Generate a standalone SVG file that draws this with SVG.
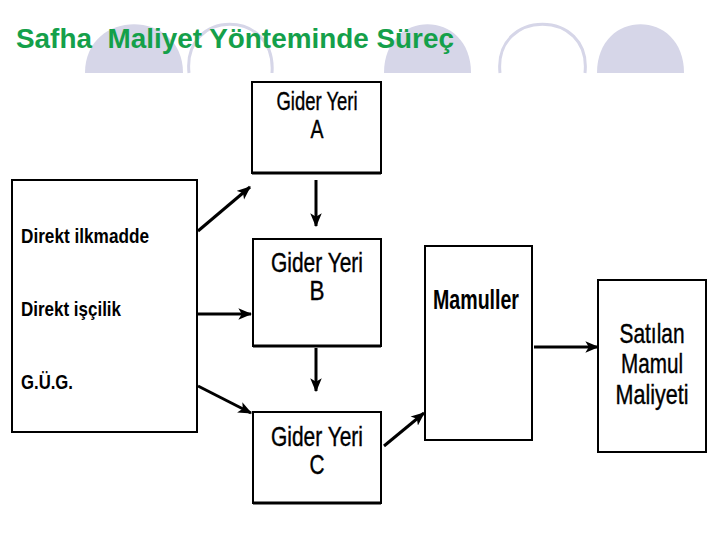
<svg xmlns="http://www.w3.org/2000/svg" width="720" height="540" viewBox="0 0 720 540">
<style>
.deco{fill:#d6d6e8}
.decoline{fill:none;stroke:#d6d6e8;stroke-width:3}
.box{fill:#fff;stroke:#000;stroke-width:2}
.t{font-family:"Liberation Sans",Arial,sans-serif;fill:#000;text-anchor:middle;stroke:#000;stroke-width:0.4}
.b{font-weight:bold;stroke-width:0}
.l{font-family:"Liberation Sans",Arial,sans-serif;font-weight:bold;fill:#000;font-size:21px}
.c{fill:none;stroke:#000;stroke-width:3}
</style>
<defs>
<marker id="ah" viewBox="0 0 12 10" refX="11" refY="5" markerWidth="4.6" markerHeight="4" orient="auto" markerUnits="strokeWidth">
<path d="M0,0 L12,5 L0,10 L3,5 z" fill="#000"/>
</marker>
</defs>
<rect width="720" height="540" fill="#fff"/>
<g id="decoration">
<path class="deco" d="M85,73 C85,8 183,8 183,73 z"/>
<path class="decoline" d="M189,73 C182,8 277,8 272,73"/>
<path class="deco" d="M384,73 C384,8 471,8 471,73 z"/>
<path class="decoline" d="M500,73 C493,8 592,8 585,73"/>
<path class="deco" d="M597,73 C597,8 684,8 684,73 z"/>
</g>
<text x="16" y="48" font-family="'Liberation Sans',Arial,sans-serif" font-weight="bold" font-size="27" fill="#14a04a" textLength="438" lengthAdjust="spacingAndGlyphs" xml:space="preserve">Safha  Maliyet Yönteminde Süreç</text>
<g id="left">
<rect class="box" x="12" y="180" width="185" height="252"/>
<text class="l" x="21" y="243" textLength="128" lengthAdjust="spacingAndGlyphs">Direkt ilkmadde</text>
<text class="l" x="21" y="316" textLength="100" lengthAdjust="spacingAndGlyphs">Direkt işçilik</text>
<text class="l" x="21" y="389" textLength="52" lengthAdjust="spacingAndGlyphs">G.Ü.G.</text>
</g>
<g id="giderA">
<rect class="box" x="252" y="82" width="129" height="91"/>
<line x1="252" y1="173" x2="381" y2="173" stroke="#000" stroke-width="3"/>
<text class="t" x="317" y="110" font-size="25" textLength="81" lengthAdjust="spacingAndGlyphs">Gider Yeri</text>
<text class="t" x="317" y="138" font-size="25" textLength="13" lengthAdjust="spacingAndGlyphs">A</text>
</g>
<g id="giderB">
<rect class="box" x="253" y="239" width="128" height="107"/>
<line x1="253" y1="346" x2="381" y2="346" stroke="#000" stroke-width="3"/>
<text class="t" x="317" y="272" font-size="28" textLength="92" lengthAdjust="spacingAndGlyphs">Gider Yeri</text>
<text class="t" x="317" y="300" font-size="28" textLength="15" lengthAdjust="spacingAndGlyphs">B</text>
</g>
<g id="giderC">
<rect class="box" x="253" y="412" width="128" height="91"/>
<line x1="253" y1="503" x2="381" y2="503" stroke="#000" stroke-width="3"/>
<text class="t" x="317" y="446" font-size="28" textLength="92" lengthAdjust="spacingAndGlyphs">Gider Yeri</text>
<text class="t" x="317" y="474" font-size="28" textLength="15" lengthAdjust="spacingAndGlyphs">C</text>
</g>
<g id="mamuller">
<rect class="box" x="425" y="246" width="107" height="194"/>
<text class="t b" x="476" y="309" font-size="27" textLength="86" lengthAdjust="spacingAndGlyphs">Mamuller</text>
</g>
<g id="satilan">
<rect class="box" x="598" y="280" width="108" height="172"/>
<text class="t" x="652" y="343" font-size="28" textLength="65" lengthAdjust="spacingAndGlyphs">Satılan</text>
<text class="t" x="652" y="373" font-size="28" textLength="62" lengthAdjust="spacingAndGlyphs">Mamul</text>
<text class="t" x="652" y="404" font-size="28" textLength="73" lengthAdjust="spacingAndGlyphs">Maliyeti</text>
</g>
<g id="connectors">
<line class="c" x1="198" y1="231" x2="250" y2="187" marker-end="url(#ah)"/>
<line class="c" x1="198" y1="314" x2="251" y2="314" marker-end="url(#ah)"/>
<line class="c" x1="198" y1="386" x2="251" y2="413" marker-end="url(#ah)"/>
<line class="c" x1="316" y1="180" x2="316" y2="226" marker-end="url(#ah)"/>
<line class="c" x1="316" y1="348" x2="316" y2="391" marker-end="url(#ah)"/>
<line class="c" x1="384" y1="446" x2="424" y2="413" marker-end="url(#ah)"/>
<line class="c" x1="534" y1="347" x2="598" y2="347" marker-end="url(#ah)"/>
</g>
</svg>
